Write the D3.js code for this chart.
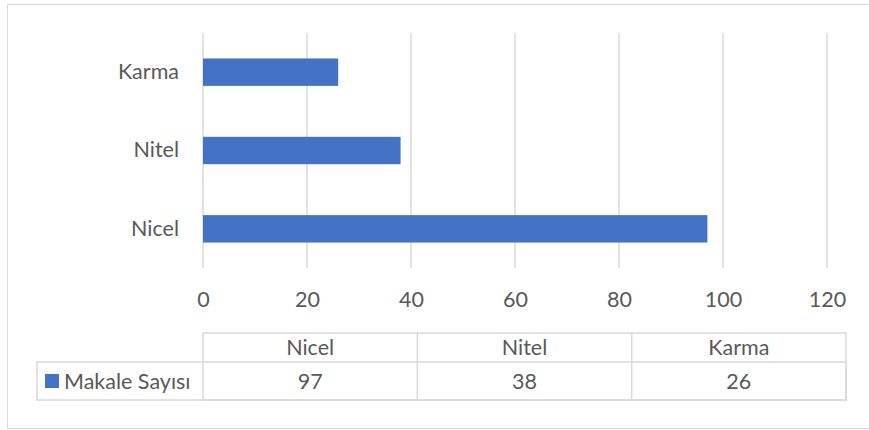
<!DOCTYPE html>
<html>
<head>
<meta charset="utf-8">
<script src="https://cdn.jsdelivr.net/npm/d3@7"></script>
<style>
  body { margin: 0; background: #fff; }
  text { font-family: Lato, "Open Sans", sans-serif; fill: #595959; }
</style>
</head>
<body>
<div id="chart"></div>
<script>
// Chart data
var categories = ["Nicel", "Nitel", "Karma"];
var values = [97, 38, 26];
var seriesName = "Makale Sayısı";
var xTicks = [0, 20, 40, 60, 80, 100, 120];

var svgWidth = 869;
var svgHeight = 430;
var fontSize = "21.5px";

var plot = { left: 203, right: 827, top: 33, bottom: 268 };

var svg = d3.select("#chart")
  .append("svg")
  .attr("width", svgWidth)
  .attr("height", svgHeight);

// Outer chart border
svg.append("rect")
  .attr("x", 7.5)
  .attr("y", 4.5)
  .attr("width", 870)
  .attr("height", 424)
  .attr("fill", "none")
  .attr("stroke", "#d9d9d9")
  .attr("stroke-width", 1);

// Scales
var xScale = d3.scaleLinear()
  .domain([0, 120])
  .range([plot.left, plot.right]);

var yScale = d3.scaleBand()
  .domain(categories.slice().reverse())
  .range([plot.top, plot.bottom])
  .paddingInner(0.65)
  .paddingOuter(0.325);

// Gridlines
svg.append("g")
  .selectAll("line")
  .data(xTicks)
  .enter()
  .append("line")
  .attr("x1", d => xScale(d))
  .attr("x2", d => xScale(d))
  .attr("y1", plot.top)
  .attr("y2", plot.bottom)
  .attr("stroke", "#d9d9d9")
  .attr("stroke-width", 1.5);

// Bars
svg.append("g")
  .selectAll("rect")
  .data(categories)
  .enter()
  .append("rect")
  .attr("x", xScale(0))
  .attr("y", d => yScale(d))
  .attr("width", (d, i) => xScale(values[i]) - xScale(0))
  .attr("height", yScale.bandwidth())
  .attr("fill", "#4472c4");

// X axis labels
var bottomAxis = d3.axisBottom(xScale)
  .tickValues(xTicks)
  .tickSize(0)
  .tickPadding(0);

var xAxis = svg.append("g")
  .attr("transform", `translate(0, 299)`)
  .call(bottomAxis);
xAxis.select(".domain").remove();
xAxis.selectAll("text")
  .attr("y", 0)
  .attr("dy", "0.35em")
  .style("font-size", fontSize)
  .style("font-family", null);

// Y axis labels
var leftAxis = d3.axisLeft(yScale)
  .tickSize(0)
  .tickPadding(0);

var yAxis = svg.append("g")
  .attr("transform", `translate(179, 0)`)
  .call(leftAxis);
yAxis.select(".domain").remove();
yAxis.selectAll("text")
  .style("font-size", fontSize)
  .style("font-family", null);

// Data table
var table = { left: 37, right: 846, top: 333, mid: 362, bottom: 400 };
var colScale = d3.scaleBand()
  .domain(categories)
  .range([plot.left, table.right]);

var tableGroup = svg.append("g")
  .attr("stroke", "#d9d9d9")
  .attr("stroke-width", 1.5)
  .attr("fill", "none");

tableGroup.append("rect")
  .attr("x", plot.left)
  .attr("y", table.top)
  .attr("width", table.right - plot.left)
  .attr("height", table.bottom - table.top);

tableGroup.append("rect")
  .attr("x", table.left)
  .attr("y", table.mid)
  .attr("width", table.right - table.left)
  .attr("height", table.bottom - table.mid);

tableGroup.selectAll("line.col")
  .data(categories.slice(1))
  .enter()
  .append("line")
  .attr("x1", d => colScale(d))
  .attr("x2", d => colScale(d))
  .attr("y1", table.top)
  .attr("y2", table.bottom);

// Header labels
svg.append("g")
  .selectAll("text")
  .data(categories)
  .enter()
  .append("text")
  .attr("x", d => colScale(d) + colScale.bandwidth() / 2)
  .attr("y", (table.top + table.mid) / 2)
  .attr("dy", "0.35em")
  .attr("text-anchor", "middle")
  .style("font-size", fontSize)
  .text(d => d);

// Value cells
svg.append("g")
  .selectAll("text")
  .data(values)
  .enter()
  .append("text")
  .attr("x", (d, i) => colScale(categories[i]) + colScale.bandwidth() / 2)
  .attr("y", (table.mid + table.bottom) / 2)
  .attr("dy", "0.35em")
  .attr("text-anchor", "middle")
  .style("font-size", fontSize)
  .text(d => d);

// Legend key in table
svg.append("rect")
  .attr("x", 45)
  .attr("y", 374)
  .attr("width", 14)
  .attr("height", 14)
  .attr("fill", "#4472c4");

svg.append("text")
  .attr("x", 64)
  .attr("y", (table.mid + table.bottom) / 2)
  .attr("dy", "0.35em")
  .style("font-size", fontSize)
  .text(seriesName);
</script>
</body>
</html>
